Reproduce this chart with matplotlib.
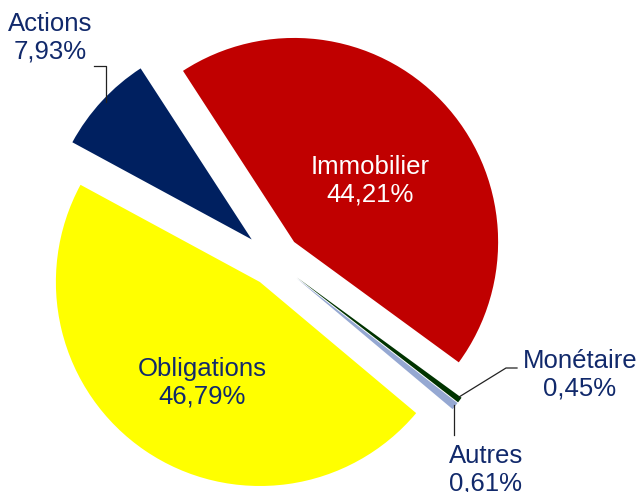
import matplotlib
matplotlib.use("Agg")
import matplotlib.pyplot as plt

categories = ["Immobilier", "Monétaire", "Autres", "Obligations", "Actions"]
values = [44.21, 0.45, 0.61, 46.79, 7.93]
pct_labels = ["44,21%", "0,45%", "0,61%", "46,79%", "7,93%"]

colors = ["#C00000", "#003300", "#95A8D2", "#FFFF00", "#002060"]
explode = [27, 28, 28, 26, 31]

plt.rcParams['font.family'] = ['Liberation Sans', 'DejaVu Sans']

W, H = 642, 492
fig = plt.figure(figsize=(W / 100, H / 100), dpi=100)
ax = fig.add_axes([0, 0, 1, 1])
ax.pie(values, colors=colors, startangle=123, counterclock=False,
       explode=explode, radius=204, center=(274.5, H - 260.5),
       wedgeprops=dict(linewidth=0))
ax.set_xlim(0, W)
ax.set_ylim(0, H)
ax.set_aspect('equal')
ax.axis('off')

navy = "#11296B"
fs = 18.5
# label positions (pixel coords, top-left origin), text color
label_pos = {
    "Immobilier": (370, 181, "white"),
    "Monétaire": (580, 375, navy),
    "Autres": (486, 470, navy),
    "Obligations": (202, 383, navy),
    "Actions": (50, 38, navy),
}
for cat, pct in zip(categories, pct_labels):
    x, y, c = label_pos[cat]
    ax.text(x, H - y, f"{cat}\n{pct}", ha="center", va="center",
            color=c, fontsize=fs, linespacing=1.2)

# leader lines
lines = [
    [(94, 66), (106, 66), (106, 102)],
    [(459, 397), (506, 368), (517, 368)],
    [(454, 405), (454, 435)],
]
for pts in lines:
    xs = [p[0] for p in pts]
    ys = [H - p[1] for p in pts]
    ax.plot(xs, ys, color="#222222", linewidth=0.9)

fig.savefig("out.png", dpi=100)
